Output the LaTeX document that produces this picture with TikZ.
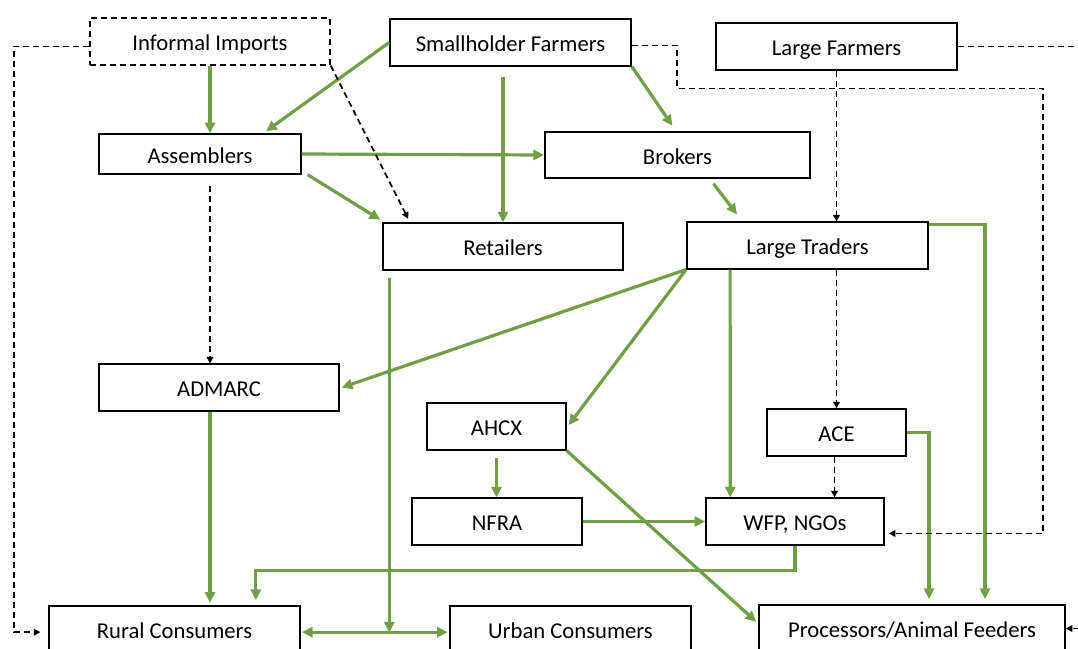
\documentclass[tikz,border=0pt]{standalone}
\usepackage{fontspec}
\setmainfont{Carlito}
\usetikzlibrary{arrows.meta}
\definecolor{flowgreen}{RGB}{112,160,70}
\tikzset{
  box/.style={draw, line width=1.1pt, minimum height=35pt, inner sep=0pt, text height=16pt, text depth=2pt, font=\fontsize{17}{20}\selectfont},
  flow/.style={draw=flowgreen, line width=2.4pt, -{Triangle[length=8pt,width=7.5pt]}},
  dflow/.style={draw=black, line width=1.3pt, dash pattern=on 4.5pt off 3pt, -{Triangle[length=5pt,width=5pt]}},
}
\begin{document}
\begin{tikzpicture}[x=0.75pt,y=-0.75pt]
\useasboundingbox (0,0) rectangle (1078,649);
%Erzeuger
\node[box,dash pattern=on 4.5pt off 3pt,minimum width=180pt] (imp) at (210,41.5) {Informal Imports};
\node[box,minimum width=181pt] (sf) at (510.5,42.5) {Smallholder Farmers};
\node[box,minimum width=181pt] (lf) at (836.5,46.5) {Large Farmers};
%Handel
\node[box,minimum width=151.5pt,minimum height=30pt] (asm) at (200,154) {Assemblers};
\node[box,minimum width=199pt,minimum height=34.5pt] (brk) at (677.5,155) {Brokers};
\node[box,minimum width=180pt] (ret) at (503,246.5) {Retailers};
\node[box,minimum width=181pt] (lt) at (807.5,245.5) {Large Traders};
%Institutionen
\node[box,minimum width=180pt] (adm) at (219,387.5) {ADMARC};
\node[box,minimum width=104pt] (ahcx) at (496.5,426.5) {AHCX};
\node[box,minimum width=104pt] (ace) at (836.5,432.5) {ACE};
\node[box,minimum width=127.5pt] (nfra) at (497,521.5) {NFRA};
\node[box,minimum width=133.5pt] (wfp) at (795,521.5) {WFP, NGOs};
%Verbraucher
\node[box,minimum width=188pt] (rur) at (174.5,629.5) {Rural Consumers};
\node[box,minimum width=181pt] (urb) at (570.5,629.5) {Urban Consumers};
\node[box,minimum width=229.5pt] (proc) at (912,628.5) {Processors/Animal Feeders};

%Gruene Verbindungen
\draw[flow] (imp.south) -- (imp.south |- asm.north);
\draw[flow] (sf.west) -- ([xshift=49.5pt,yshift=1.5pt]asm.north);
\draw[flow] (sf.south -| ret.north) ++(0,10) -- (ret.north);
\draw[flow,shorten >=5pt] (sf.south east) -- ([xshift=-1pt]brk.north);
\draw[flow] (asm.east) -- (brk.west);
\draw[flow] ([xshift=4.5pt]asm.south east) -- ([xshift=-1.5pt,yshift=2pt]ret.north west);
\draw[flow] ([xshift=27pt,yshift=-3.75pt]brk.south) -- ([xshift=38.25pt,yshift=5.25pt]lt.north west);
\draw[flow] (lt.south west) -- ([xshift=1.5pt]adm.east);
\draw[flow] (lt.south west) -- ([xshift=1.5pt,yshift=1pt]ahcx.east);
\draw[flow] (lt.south west) ++(44,0) -- ([xshift=18.75pt]wfp.north west);
\draw[flow,shorten >=4pt] ([yshift=-2.25pt]lt.north east) -| ([xshift=54.75pt]proc.north);
\draw[flow,shorten >=4pt] (ace.east) -| ([xshift=12.75pt]proc.north);
\draw[flow] (ahcx.south) ++(0,7) -- (ahcx.south |- nfra.north);
\draw[flow] (ahcx.south east) -- ([xshift=-1.5pt,yshift=5pt]proc.west);
\draw[flow] (nfra.east) -- (wfp.west);
\draw[flow,shorten >=4pt] (wfp.south) -- ++(0,25) -| ([xshift=61pt]rur.north);
\draw[flow,shorten >=2pt] (adm.south -| imp.south) -- (rur.north -| imp.south);
\draw[flow] (ret.south west) ++(7,7) -- ++(0,355);
\draw[flow,{Triangle[length=8pt,width=7.5pt]}-{Triangle[length=8pt,width=7.5pt]},shorten <=1pt,shorten >=1pt] ([yshift=-2pt]rur.east) -- ([yshift=-2pt]urb.west);

%Gestrichelte Verbindungen
\draw[dflow,shorten >=3pt] (imp.south east) -- ([xshift=-69.75pt]ret.north);
\draw[dflow] ([yshift=-3.75pt]imp.west) -- ++(-75,0) |- ([xshift=-6pt,yshift=-2pt]rur.west);
\draw[dflow] ([yshift=-2.25pt]sf.east) -- ++(45,0) -- ++(0,43) -- ++(366,0) |- ([xshift=3pt,yshift=-9pt]wfp.east);
\draw[dflow,-] (lf.east) -- ++(121,0);
\draw[dflow] (proc.east) ++(13,0) -- (proc.east);
\draw[dflow] (lf.south) -- (lf.south |- lt.north);
\draw[dflow] (asm.south -| imp.south) ++(0,11) -- (adm.north -| imp.south);
\draw[dflow] (lt.south -| ace.north) -- (ace.north);
\draw[dflow] ([xshift=-1.5pt]ace.south) -- ([xshift=-1.5pt]ace.south |- wfp.north);
\end{tikzpicture}
\end{document}
